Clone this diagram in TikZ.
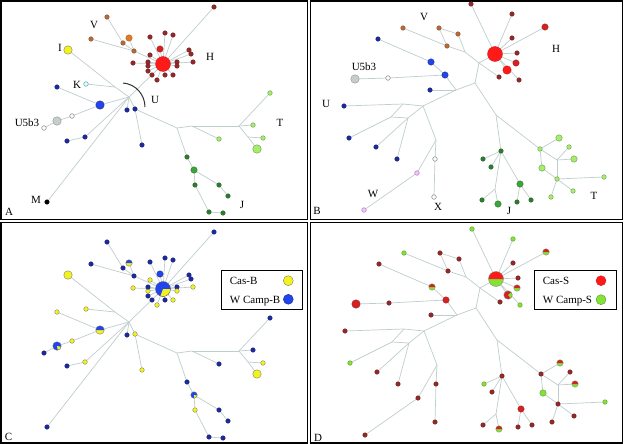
\documentclass[tikz,border=0pt]{standalone}
\usepackage{fontspec}
\setmainfont{Liberation Serif}
\usetikzlibrary{backgrounds}

\definecolor{cEdge}{HTML}{BFCDCE}
\definecolor{cRed}{HTML}{FF1A1A}
\definecolor{cMred}{HTML}{D42222}
\definecolor{cDred}{HTML}{952828}
\definecolor{cBrn}{HTML}{B8693A}
\definecolor{cOrg}{HTML}{E07A28}
\definecolor{cYel}{HTML}{F2F21E}
\definecolor{cBlu}{HTML}{1C2A9E}
\definecolor{cBblu}{HTML}{2244EE}
\definecolor{cGry}{HTML}{C5CDCD}
\definecolor{cLgr}{HTML}{A4EE6A}
\definecolor{cDgr}{HTML}{2E7D2E}
\definecolor{cMgr}{HTML}{3AA63A}
\definecolor{cPur}{HTML}{C070D8}
\definecolor{cGrn}{HTML}{82E236}

\tikzset{
  frame/.style={draw=black, line width=1.3pt},
  edge/.style={draw=cEdge, line width=0.7pt},
  arcline/.style={draw=black!80, line width=1pt},
  lbl/.style={inner sep=0pt},
  legbox/.style={draw=black, line width=1pt, fill=white, inner sep=0pt},
  hap/.style={circle, inner sep=0pt, outer sep=0pt, line width=0.3pt, draw=black!45},
  sz1/.style={minimum size=4.6pt},
  sz2/.style={minimum size=6.5pt},
  sz3/.style={minimum size=8.5pt},
  sz4/.style={minimum size=15pt},
  redH/.style={fill=cRed, draw=cRed!75!black},
  mred/.style={fill=cMred, draw=cMred!70!black},
  dred/.style={fill=cDred, draw=cDred!70!black},
  brn/.style={fill=cBrn, draw=cBrn!70!black},
  org/.style={fill=cOrg, draw=cOrg!70!black},
  yel/.style={fill=cYel, draw=black!60},
  blu/.style={fill=cBlu, draw=cBlu!70!black},
  bblu/.style={fill=cBblu, draw=cBlu!70!black},
  gry/.style={fill=cGry, draw=black!50},
  holg/.style={fill=white, draw=black!50, line width=0.5pt},
  holk/.style={fill=cyan!8, draw=teal!70, line width=0.5pt},
  blk/.style={fill=black, draw=black},
  lgr/.style={fill=cLgr, draw=cLgr!55!black},
  dgr/.style={fill=cDgr, draw=cDgr!70!black},
  mgr/.style={fill=cMgr, draw=cMgr!60!black},
  pur/.style={fill=cPur!35, draw=cPur, line width=0.5pt},
  grn/.style={fill=cGrn, draw=cGrn!60!black},
  pie/.style n args={3}{path picture={
    \fill[#1] (path picture bounding box.center) -- ++(#2:12pt)
      arc[start angle=#2, end angle=#3, radius=12pt] -- cycle;}},
  % shared haplotypes
  pCH/.style={fill=cBblu, draw=black!70, pie={cYel}{-110}{0}},
  pCv/.style={fill=cYel, draw=black!60, pie={cBblu}{0}{180}},
  pCg/.style={fill=cBblu, draw=black!60, pie={cYel}{-80}{-10}},
  pCj/.style={fill=cBblu, draw=black!60, pie={cYel}{-90}{-10}},
  pDH/.style={fill=cGrn, draw=black!50, pie={cRed}{0}{180}},
  pDh/.style={fill=cGrn, draw=black!50, pie={cMred}{0}{180}},
  pDr/.style={fill=cMred, draw=black!50, pie={cGrn}{-50}{40}}
}

\begin{document}
\begin{tikzpicture}[x=1pt, y=-1pt, font=\fontsize{11}{13}\selectfont]
\useasboundingbox (0,0) rectangle (624,444);

% panel frames
\draw[frame] (1,1) rectangle (307.5,219.5);
\draw[frame] (310.5,1) rectangle (622.5,219.5);
\draw[frame] (1,222.5) rectangle (307.5,443);
\draw[frame] (310.5,222.5) rectangle (622.5,443);

% network of A, coloured again in C
\foreach \n/\x/\y in {hub/129/97, jK/115/87, jJT/177/128, jT1/192/126, jT2/239/126, jT3/248/137} {
  \coordinate (a\n) at (\x,\y);
  \coordinate (c\n) at (\x,\y+225);
}
\foreach \n/\x/\y/\ca/\cc/\s in {
  H/163/64/redH/pCH/sz4, Htop/214/7/dred/blu/sz1,
  h1/150/37/dred/blu/sz1, h2/165/33/dred/blu/sz1, h3/173/35/dred/blu/sz1,
  h4/160/49/mred/bblu/sz2, h5/189/50/dred/blu/sz1, h6/191/54/dred/blu/sz1,
  h7/193/62/dred/yel/sz1, h8/177/62/dred/blu/sz1, h9/177/66/dred/yel/sz1,
  h10/173/75/dred/yel/sz1, h11/165/75/dred/blu/sz1, h12/157/80/dred/yel/sz1,
  h13/148/71/dred/blu/sz1, h14/148/66/dred/yel/sz1, h15/148/62/dred/blu/sz1,
  h16/133/63/dred/yel/sz1, h17/150/55/dred/yel/sz1, h18/152/75/dred/blu/sz1,
  v1/107/17/brn/blu/sz1, v2/129/38/org/pCv/sz2, v3/123/43/brn/blu/sz1,
  v4/91/39/brn/blu/sz1, v5/134/51/brn/blu/sz1,
  i/68/50/yel/yel/sz3, k/86/84/holk/yel/sz1,
  b1/57/87/blu/yel/sz1, bU/100/105/bblu/pCv/sz3, b2/127/110/blu/blu/sz1,
  b3/135/109/blu/yel/sz1, b4/142/145/blu/yel/sz1, b5/85/137/blu/yel/sz1,
  b6/67/141/blu/blu/sz1,
  g1/57/121/gry/pCg/sz3, g2/72/116/holg/yel/sz1, g3/44/128/holg/blu/sz1,
  m/47/202/blk/blu/sz1,
  t1/270/93/lgr/blu/sz1, t2/253/125/lgr/blu/sz1, t3/263/138/lgr/yel/sz1,
  t4/257/149/lgr/yel/sz3, t5/219/139/lgr/blu/sz1,
  j1/187/157/dgr/blu/sz1, j2/194/170/mgr/pCj/sz2, j3/195/185/dgr/yel/sz1,
  j4/219/185/dgr/blu/sz1, j5/228/196/dgr/blu/sz1, j6/209/212/dgr/blu/sz1,
  j7/223/213/dgr/blu/sz1} {
  \node[hap,\ca,\s] (a\n) at (\x,\y) {};
  \node[hap,\cc,\s] (c\n) at (\x,\y+225) {};
}
\begin{scope}[on background layer]
  \foreach \u/\v in {H/Htop, H/h1, H/h2, H/h3, H/h4, H/h5, H/h6, H/h7, H/h8, H/h9,
    H/h10, H/h11, H/h12, H/h13, H/h14, H/h15, H/h16, H/h17, H/h18,
    v1/v3, v3/v5, v2/v5, v4/v5, v5/H,
    i/jK, k/jK, jK/hub, hub/H,
    b1/bU, bU/hub, g3/g1, g1/g2, g2/bU, b6/b5, b5/hub, b2/hub, b3/hub, b3/b4, b3/jJT, m/hub,
    jJT/jT1, jT1/t5, jT1/jT2, jT2/t1, jT2/t2, jT2/jT3, jT3/t3, jT3/t4,
    jJT/j1, j1/j2, j2/j3, j3/j6, j6/j7, j2/j4, j4/j5} {
    \draw[edge] (a\u) -- (a\v);
    \draw[edge] (c\u) -- (c\v);
  }
\end{scope}
\draw[arcline] (123,83) .. controls (136,84) and (145,95) .. (145,107);
\foreach \t/\x/\y in {V/94/25, H/210/57, I/60/48, K/77/85, U/155/100, U5b3/27/123,
  T/280/123, J/242/205, M/36/200}
  \node[lbl] (la\t) at (\x,\y) {\t};
\node[lbl] (panA) at (9,212) {A};
\node[lbl] (panC) at (8.5,437) {C};

% network of B, coloured again in D
\foreach \n/\x/\y in {jH/479/63, jV/465/52, jB/456/90, jMain/475/83, jU/423/106, jA/403/104,
  jB2/391/117, jC/408/118, jX/436/140, jJT/496/115, jJ/495/189, jT/557/160} {
  \coordinate (b\n) at (\x,\y);
  \coordinate (d\n) at (\x+1,\y+225);
}
\foreach \n/\x/\y/\cb/\cd/\s in {
  H/495/54/redH/pDH/sz4, Htop/471/4/dred/grn/sz1,
  h1/512/14/dred/grn/sz1, h2/545/27/mred/pDh/sz2, h3/512/38/dred/dred/sz1,
  h4/517/53/dred/dred/sz1, h5/516/63/mred/pDh/sz2, h6/507/70/redH/pDr/sz3,
  h7/519/80/dred/grn/sz1, hx/499/77/dred/dred/sz1,
  v1/403/28/brn/grn/sz1, v2/439/28/brn/dred/sz1, v3/458/34/brn/dred/sz1,
  v4/447/46/brn/dred/sz1,
  b1/378/39/blu/dred/sz1, b2/431/62/bblu/pDh/sz2, b3/445/75/bblu/mred/sz2,
  b4/430/90/blu/dred/sz1,
  g1/355/79/gry/mred/sz3, g2/388/78/holg/dred/sz1,
  u1/344/106/blu/dred/sz1, u2/349/138/blu/grn/sz1, u3/376/147/blu/dred/sz1,
  u4/397/159/blu/dred/sz1,
  x1/435/159/holg/dred/sz1, x2/434/197/holg/dred/sz1,
  w1/417/173/pur/dred/sz1, w2/364/210/pur/dred/sz1,
  j1/501/151/dgr/dred/sz1, j2/483/159/dgr/grn/sz1, j3/491/167/dgr/dred/sz1,
  j4/482/200/dgr/dred/sz1, j5/498/204/mgr/pDh/sz2, j6/520/184/mgr/mred/sz2,
  j7/517/202/dgr/dred/sz1, j8/531/200/dgr/dred/sz1,
  t1/540/149/lgr/dred/sz1, t2/559/138/lgr/pDh/sz2, t3/569/147/lgr/dred/sz1,
  t4/574/159/lgr/pDh/sz2, t5/542/168/lgr/grn/sz2, t6/557/179/lgr/dred/sz1,
  t7/604/177/lgr/grn/sz1, t8/573/191/lgr/dred/sz1, t9/551/197/lgr/dred/sz1} {
  \node[hap,\cb,\s] (b\n) at (\x,\y) {};
  \node[hap,\cd,\s] (d\n) at (\x+1,\y+225) {};
}
\begin{scope}[on background layer]
  \foreach \u/\v in {H/Htop, H/h1, H/h2, H/h3, H/h4, H/h5, H/h6, H/h7,
    jH/H, jH/hx, jV/jH, v1/v4, v4/jV, v2/v4, v2/v3, v3/jV,
    b1/b2, b2/b3, b3/jB, g1/g2, g2/b3, b4/jB, jB/jMain, jMain/jH, jB/jU,
    jU/jA, jA/u1, jA/jB2, jB2/jC, jC/jU, jB2/u2, jC/u3, jC/u4,
    jU/jX, jX/x1, x1/x2, jX/w1, w1/w2,
    jMain/jJT, jJT/j1, j1/j2, j1/j3, j1/jJ, jJ/j4, jJ/j5, j1/j6, j6/j7, j6/j8,
    jJT/t1, t1/t2, t1/jT, jT/t3, jT/t4, t1/t5, t5/t6, jT/t6, t6/t7, t6/t8, t6/t9} {
    \draw[edge] (b\u) -- (b\v);
    \draw[edge] (d\u) -- (d\v);
  }
\end{scope}
\foreach \t/\x/\y in {V/424/17, H/556/49, U5b3/364/67, U/326/104, W/373/194, X/438/207,
  J/509/211, T/594/196}
  \node[lbl] (lb\t) at (\x,\y) {\t};
\node[lbl] (panB) at (317,211) {B};
\node[lbl] (panD) at (318,438) {D};

% legends
\node[legbox, minimum width=81pt, minimum height=39pt] (legC) at (261.5,289.5) {};
\node[lbl, anchor=base west] (legCa) at (229.7,284.6) {Cas-B};
\node[lbl, anchor=base west] (legCb) at (229.7,303) {W Camp-B};
\node[hap, yel, minimum size=10pt] (legCy) at (288.3,280.7) {};
\node[hap, bblu, minimum size=10pt] (legCz) at (288.3,299.3) {};

\node[legbox, minimum width=81.5pt, minimum height=38.5pt] (legD) at (575.5,290) {};
\node[lbl, anchor=base west] (legDa) at (542.7,284) {Cas-S};
\node[lbl, anchor=base west] (legDb) at (542.7,303.4) {W Camp-S};
\node[hap, redH, minimum size=10pt] (legDr) at (601,280.7) {};
\node[hap, grn, minimum size=10pt] (legDg) at (601,299.7) {};
\end{tikzpicture}
\end{document}
